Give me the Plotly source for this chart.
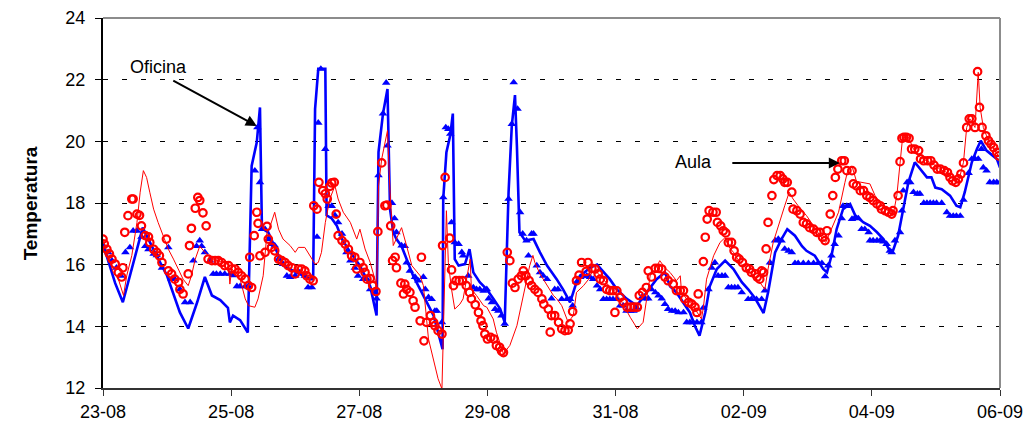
import pandas as pd
import plotly.graph_objects as go

START = pd.Timestamp("2008-08-23")

# (day offset from 23-08, temperature)
oficina_sim = [(0.00,16.67),(0.19,15.4),(0.31,14.78),(0.62,17.2),(0.81,16.4),(1.00,15.64),(1.20,14.45),(1.33,13.93),
 (1.47,14.78),(1.59,15.6),(1.70,15.0),(1.83,14.85),(1.95,14.6),(1.98,14.13),(2.03,14.35),(2.14,14.2),(2.26,13.8),
 (2.32,19.2),(2.40,19.97),(2.45,21.1),(2.48,17.26),(2.50,17.15),(2.58,17.05),(2.71,16.45),(2.81,15.97),(3.02,15.75),
 (3.23,15.53),(3.28,15.53),(3.31,21.05),(3.36,22.35),(3.47,22.35),(3.49,17.6),(3.57,17.5),(3.65,17.26),(3.73,16.83),
 (3.86,16.4),(4.01,15.97),(4.17,15.3),(4.27,14.35),(4.30,19.65),(4.37,20.9),(4.44,21.7),(4.48,17.8),(4.53,17.05),
 (4.58,16.83),(4.66,16.6),(4.74,16.18),(4.84,15.64),(4.95,15.2),(5.05,14.78),(5.16,14.35),(5.30,13.26),(5.31,18.13),
 (5.36,19.65),(5.42,20.2),(5.46,20.9),(5.49,16.18),(5.55,15.97),(5.65,16.02),(5.72,16.5),(5.78,15.75),(5.88,15.43),
 (5.99,15.2),(6.09,14.9),(6.20,14.56),(6.27,14.13),(6.33,18.35),(6.38,20.5),(6.43,21.5),(6.46,19.86),(6.50,17.05),
 (6.59,16.78),(6.72,16.83),(6.82,16.4),(6.93,15.97),(7.08,15.53),(7.18,15.2),(7.29,14.78),(7.37,15.3),(7.45,15.64),
 (7.60,15.9),(7.71,16.0),(7.81,15.75),(7.91,15.53),(8.02,15.2),(8.17,14.9),(8.33,14.67),(8.49,15.1),(8.64,15.53),
 (8.77,15.75),(8.85,15.3),(8.95,15.1),(9.06,14.78),(9.16,14.45),(9.24,14.0),(9.31,13.7),(9.40,14.45),(9.47,15.3),
 (9.58,15.86),(9.71,16.13),(9.84,15.86),(9.97,15.43),(10.07,15.2),(10.18,14.9),(10.31,14.43),(10.38,15.1),(10.49,16.4),
 (10.59,16.83),(10.68,17.15),(10.80,16.94),(10.91,16.6),(10.98,16.45),(11.11,16.29),(11.24,15.86),(11.30,15.75),
 (11.37,16.29),(11.45,17.15),(11.55,17.8),(11.66,17.97),(11.74,17.6),(11.87,17.37),(11.97,17.26),(12.08,17.05),
 (12.18,16.83),(12.28,16.45),(12.33,16.45),(12.41,16.94),(12.49,17.8),(12.57,18.67),(12.67,19.32),(12.75,19.1),
 (12.86,18.83),(12.93,18.83),(12.99,18.5),(13.09,18.45),(13.22,18.24),(13.32,17.91),(13.38,17.86),(13.45,18.35),
 (13.56,19.32),(13.64,19.75),(13.70,20.02),(13.79,19.7),(13.87,19.55),(13.95,19.43),(14.00,19.15)]

oficina_med = [(0.00,16.62),(0.08,16.4),(0.14,16.13),(0.21,15.9),(0.28,15.64),(0.35,16.4),(0.42,16.56),(0.47,17.1),
 (0.53,17.1),(0.60,16.9),(0.66,16.6),(0.71,16.5),(0.79,16.35),(0.84,16.3),(0.92,15.9),(1.02,16.56),(1.07,15.53),
 (1.12,15.53),(1.20,15.2),(1.28,14.78),(1.36,14.78),(1.41,16.13),(1.46,16.6),(1.51,16.78),(1.54,16.6),(1.59,16.4),
 (1.67,16.13),(1.72,15.7),(1.77,15.7),(1.83,15.7),(1.90,15.7),(1.98,15.7),(2.03,15.65),(2.09,15.3),(2.14,15.3),
 (2.22,15.3),(2.27,15.3),(2.37,19.05),(2.41,20.45),(2.45,18.67),(2.48,17.15),(2.53,17.15),(2.58,16.83),(2.63,16.67),
 (2.68,16.62),(2.74,16.18),(2.81,16.02),(2.87,15.64),(2.92,15.6),(3.00,15.64),(3.07,15.75),(3.15,15.64),(3.20,15.26),
 (3.26,15.26),(3.34,16.9),(3.36,20.6),(3.40,22.35),(3.47,19.75),(3.52,17.9),(3.57,17.9),(3.62,17.6),(3.67,17.37),
 (3.73,17.0),(3.80,16.4),(3.86,16.13),(3.93,15.9),(3.98,15.64),(4.06,15.53),(4.12,15.53),(4.17,15.2),(4.25,15.1),
 (4.27,14.9),(4.30,18.9),(4.37,20.9),(4.42,21.9),(4.44,19.86),(4.51,18.0),(4.55,17.5),(4.58,17.05),(4.66,16.62),
 (4.71,16.6),(4.74,16.07),(4.79,15.8),(4.87,15.6),(4.92,15.48),(5.00,15.6),(5.03,15.2),(5.08,14.94),(5.13,14.88),
 (5.18,14.5),(5.21,14.5),(5.29,14.13),(5.31,18.18),(5.35,20.45),(5.39,20.4),(5.42,20.24),(5.44,17.37),(5.49,16.72),
 (5.55,16.67),(5.60,16.4),(5.62,16.29),(5.70,15.64),(5.78,15.26),(5.83,15.2),(5.88,15.2),(5.94,15.15),(5.99,15.2),
 (6.02,14.9),(6.07,14.78),(6.12,14.56),(6.17,14.5),(6.22,14.35),(6.27,14.08),(6.33,18.13),(6.38,20.56),(6.41,21.91),
 (6.47,21.05),(6.51,17.7),(6.55,17.0),(6.61,16.78),(6.64,16.29),(6.69,17.0),(6.72,17.0),(6.77,15.97),(6.82,15.75),
 (6.87,15.64),(6.93,15.53),(7.00,14.9),(7.05,15.2),(7.10,15.2),(7.16,14.88),(7.24,14.88),(7.29,14.88),(7.33,14.67),
 (7.39,15.43),(7.45,15.6),(7.50,15.64),(7.55,15.64),(7.60,15.6),(7.65,15.53),(7.71,15.32),(7.76,15.2),(7.81,14.88),
 (7.86,14.88),(7.91,14.88),(7.96,14.88),(8.02,14.88),(8.07,14.67),(8.12,14.67),(8.17,14.5),(8.23,14.5),(8.28,14.5),
 (8.33,14.6),(8.41,14.94),(8.46,14.9),(8.51,14.9),(8.56,15.2),(8.62,15.1),(8.67,15.0),(8.72,14.9),(8.77,14.72),
 (8.82,14.56),(8.88,14.5),(8.93,14.5),(8.98,14.45),(9.06,14.45),(9.11,14.13),(9.16,14.13),(9.21,14.13),(9.27,14.13),
 (9.34,14.13),(9.37,14.6),(9.45,15.2),(9.50,15.9),(9.55,16.07),(9.60,15.64),(9.66,15.64),(9.71,15.64),(9.76,15.26),
 (9.81,15.26),(9.86,15.26),(9.91,15.26),(9.97,15.1),(10.07,14.88),(10.12,14.88),(10.20,14.88),(10.28,14.88),
 (10.33,15.16),(10.41,16.07),(10.49,16.78),(10.54,16.83),(10.59,16.78),(10.64,16.51),(10.70,16.45),(10.75,16.4),
 (10.80,16.05),(10.85,16.05),(10.93,16.05),(11.01,16.05),(11.09,16.05),(11.16,16.05),(11.22,16.05),(11.27,15.62),
 (11.32,15.97),(11.37,16.29),(11.42,16.67),(11.48,16.94),(11.53,17.5),(11.55,17.9),(11.61,17.9),(11.69,17.48),
 (11.74,17.53),(11.79,17.5),(11.84,17.15),(11.89,17.15),(11.95,17.05),(11.97,16.78),(12.02,16.78),(12.08,16.78),
 (12.13,16.78),(12.18,16.75),(12.23,16.67),(12.28,16.45),(12.31,16.4),(12.36,16.78),(12.44,17.05),(12.47,17.75),
 (12.49,18.4),(12.55,18.67),(12.60,18.67),(12.65,18.35),(12.71,18.3),(12.75,18.3),(12.81,18.0),(12.86,18.0),
 (12.91,18.0),(12.96,18.0),(13.01,18.0),(13.09,18.0),(13.17,17.7),(13.22,17.58),(13.27,17.58),(13.32,17.58),
 (13.38,17.58),(13.43,18.1),(13.51,18.97),(13.56,19.43),(13.61,19.43),(13.66,19.43),(13.71,19.75),(13.74,19.15),
 (13.79,19.05),(13.84,18.67),(13.90,18.67),(13.95,18.67),(14.00,18.67)]

aula_sim = [(0.00,16.83),(0.06,16.4),(0.16,15.75),(0.24,15.53),(0.32,15.0),(0.37,15.64),(0.45,16.3),(0.53,17.37),
 (0.58,18.35),(0.63,19.05),(0.68,18.83),(0.73,18.35),(0.79,17.8),(0.86,17.37),(0.94,16.94),(1.02,16.5),(1.10,16.18),
 (1.18,15.86),(1.25,15.53),(1.33,15.32),(1.38,15.64),(1.44,16.18),(1.51,16.6),(1.57,16.45),(1.64,16.3),(1.72,16.18),
 (1.80,16.13),(1.90,16.07),(1.96,15.97),(1.98,15.37),(2.01,15.86),(2.09,15.7),(2.14,15.53),(2.22,14.89),(2.27,14.67),
 (2.37,14.62),(2.42,14.89),(2.50,15.64),(2.56,17.05),(2.61,17.26),(2.68,17.7),(2.74,17.15),(2.81,16.83),(2.92,16.62),
 (3.00,16.4),(3.05,16.56),(3.15,16.56),(3.23,16.29),(3.31,16.02),(3.36,16.07),(3.41,16.4),(3.47,17.37),(3.54,18.13),
 (3.62,18.56),(3.67,18.13),(3.75,17.7),(3.86,17.37),(3.96,16.83),(4.01,17.15),(4.09,16.51),(4.17,16.07),(4.25,15.48),
 (4.27,15.2),(4.30,18.56),(4.35,19.43),(4.44,20.35),(4.48,18.35),(4.53,16.62),(4.58,16.83),(4.66,17.2),(4.74,16.6),
 (4.82,15.97),(4.95,15.64),(5.00,15.32),(5.08,13.59),(5.16,12.94),(5.23,12.3),(5.29,11.97),(5.30,12.94),(5.34,16.6),
 (5.36,17.75),(5.39,16.07),(5.44,15.2),(5.49,14.56),(5.57,14.72),(5.62,14.89),(5.68,15.53),(5.73,16.18),(5.75,15.2),
 (5.83,15.0),(5.94,14.67),(5.99,14.62),(6.09,14.24),(6.14,13.81),(6.25,13.11),(6.35,13.38),(6.46,14.02),(6.56,15.0),
 (6.66,15.97),(6.71,16.3),(6.74,16.07),(6.82,15.7),(6.93,15.32),(7.03,15.0),(7.08,14.9),(7.16,14.67),(7.26,14.13),
 (7.34,14.35),(7.39,15.1),(7.50,15.32),(7.58,15.53),(7.63,15.75),(7.71,15.75),(7.81,15.53),(7.94,15.2),(8.07,14.89),
 (8.23,14.29),(8.34,13.92),(8.43,14.13),(8.49,14.89),(8.54,15.64),(8.62,15.86),(8.69,16.13),(8.77,15.9),(8.85,15.75),
 (8.95,15.48),(9.01,15.64),(9.03,15.1),(9.11,14.89),(9.19,14.72),(9.27,14.45),(9.34,14.24),(9.37,14.6),(9.42,15.53),
 (9.53,16.29),(9.63,16.72),(9.71,16.88),(9.76,16.6),(9.84,16.4),(9.94,16.07),(10.05,15.86),(10.15,15.64),(10.25,15.43),
 (10.33,15.2),(10.38,15.86),(10.46,16.72),(10.57,17.48),(10.64,17.91),(10.71,18.35),(10.77,18.13),(10.85,17.91),
 (10.98,17.59),(11.09,17.26),(11.19,16.94),(11.28,16.72),(11.37,17.15),(11.48,17.7),(11.58,18.67),(11.63,19.1),
 (11.69,19.2),(11.76,18.7),(11.97,18.62),(12.05,18.24),(12.13,18.0),(12.23,17.8),(12.33,17.59),(12.39,18.24),
 (12.44,19.43),(12.48,20.13),(12.57,20.13),(12.65,19.75),(12.75,19.48),(12.86,19.37),(12.96,19.26),(13.06,19.1),
 (13.17,18.99),(13.27,18.78),(13.35,18.67),(13.43,19.32),(13.48,20.45),(13.53,20.73),(13.61,20.45),(13.66,22.24),
 (13.69,21.1),(13.74,20.45),(13.79,20.18),(13.87,19.86),(13.95,19.59),(14.00,19.45)]

aula_med = [(0.00,16.83),(0.02,16.67),(0.06,16.5),(0.10,16.35),(0.14,16.18),(0.19,16.02),(0.24,15.75),(0.29,15.6),
 (0.31,15.9),(0.34,17.05),(0.39,17.59),(0.45,18.13),(0.47,18.13),(0.53,17.64),(0.57,17.6),(0.60,17.26),(0.66,16.94),
 (0.71,16.9),(0.73,16.72),(0.79,16.5),(0.84,16.4),(0.88,16.29),(0.92,16.07),(0.99,16.83),(1.02,15.8),(1.07,15.7),
 (1.12,15.53),(1.18,15.43),(1.20,15.2),(1.25,15.05),(1.33,15.7),(1.35,16.62),(1.38,17.18),(1.44,17.83),(1.48,18.18),
 (1.51,18.08),(1.56,17.68),(1.61,17.26),(1.64,16.18),(1.70,16.13),(1.75,16.13),(1.80,16.13),(1.85,16.07),(1.90,15.97),
 (1.96,15.97),(2.01,15.86),(2.06,15.86),(2.11,15.75),(2.16,15.64),(2.22,15.53),(2.27,15.32),(2.29,16.24),(2.32,15.26),
 (2.36,16.94),(2.40,17.7),(2.42,17.34),(2.45,16.29),(2.53,16.4),(2.56,17.24),(2.58,16.83),(2.63,16.56),(2.68,16.45),
 (2.74,16.18),(2.79,16.13),(2.84,16.07),(2.89,15.97),(2.95,15.9),(3.00,15.7),(3.05,15.86),(3.10,15.86),(3.15,15.8),
 (3.18,15.64),(3.23,15.53),(3.28,15.48),(3.29,17.91),(3.34,17.8),(3.37,18.67),(3.43,18.4),(3.47,18.3),(3.50,18.13),
 (3.54,18.54),(3.57,18.65),(3.61,18.67),(3.64,17.64),(3.67,16.94),(3.73,16.78),(3.78,16.67),(3.83,16.5),(3.88,16.29),
 (3.93,16.24),(3.96,15.86),(4.01,16.07),(4.06,15.9),(4.09,15.75),(4.12,15.53),(4.17,15.55),(4.21,15.32),(4.26,15.13),
 (4.29,17.07),(4.35,19.3),(4.40,17.91),(4.43,17.93),(4.49,17.26),(4.52,16.13),(4.56,16.24),(4.58,15.9),(4.65,15.4),
 (4.69,15.05),(4.71,15.37),(4.74,15.2),(4.79,15.1),(4.84,14.83),(4.87,14.62),(4.95,14.18),(4.97,16.24),(5.01,13.53),
 (5.05,14.13),(5.11,14.35),(5.16,14.13),(5.18,14.02),(5.23,13.86),(5.29,13.75),(5.30,16.62),(5.34,18.83),(5.41,16.86),
 (5.44,15.83),(5.47,15.32),(5.51,15.48),(5.56,15.48),(5.61,15.48),(5.67,15.32),(5.72,15.1),(5.75,14.89),(5.81,14.7),
 (5.86,14.45),(5.90,14.18),(5.93,14.02),(5.96,13.75),(6.00,13.59),(6.05,13.64),(6.10,13.59),(6.14,13.38),(6.19,13.32),
 (6.22,13.2),(6.25,13.15),(6.31,16.4),(6.35,16.13),(6.39,15.4),(6.43,15.26),(6.48,15.53),(6.53,15.64),(6.56,15.8),
 (6.60,15.64),(6.65,15.48),(6.69,15.32),(6.74,15.2),(6.79,15.1),(6.85,14.89),(6.88,14.72),(6.95,14.56),(6.98,13.81),
 (7.00,14.35),(7.05,14.35),(7.11,14.13),(7.16,13.92),(7.21,13.86),(7.26,13.88),(7.29,14.08),(7.33,14.48),(7.39,15.48),
 (7.43,15.66),(7.47,16.07),(7.54,15.78),(7.57,16.07),(7.63,15.88),(7.68,15.86),(7.73,15.7),(7.76,15.53),(7.81,15.48),
 (7.86,15.2),(7.91,15.16),(7.96,15.16),(7.99,14.45),(8.02,15.15),(8.07,14.94),(8.12,14.78),(8.18,14.62),(8.24,14.62),
 (8.29,14.62),(8.34,14.62),(8.37,15.0),(8.42,15.1),(8.48,15.26),(8.51,15.8),(8.56,15.6),(8.62,15.88),(8.67,15.88),
 (8.72,15.86),(8.77,15.6),(8.82,15.48),(8.90,15.37),(8.95,15.16),(9.01,15.16),(9.06,15.16),(9.08,14.89),(9.14,14.78),
 (9.19,14.72),(9.24,14.62),(9.27,14.45),(9.29,15.05),(9.37,16.1),(9.40,16.89),(9.43,17.48),(9.46,17.75),(9.52,17.7),
 (9.57,17.7),(9.59,17.37),(9.64,17.26),(9.68,17.1),(9.72,17.03),(9.76,16.72),(9.81,16.72),(9.85,16.45),(9.89,16.24),
 (9.93,16.18),(9.98,16.07),(10.04,15.9),(10.09,15.86),(10.12,15.75),(10.18,15.7),(10.21,15.6),(10.25,15.53),
 (10.28,15.8),(10.31,15.75),(10.35,16.51),(10.38,17.37),(10.44,18.24),(10.47,18.76),(10.52,18.89),(10.57,18.89),
 (10.61,18.78),(10.64,18.67),(10.68,18.67),(10.75,18.35),(10.77,17.8),(10.83,17.75),(10.88,17.64),(10.93,17.37),
 (10.98,17.32),(11.03,17.2),(11.09,17.15),(11.14,17.05),(11.19,17.05),(11.23,16.89),(11.27,16.78),(11.30,17.1),
 (11.35,17.64),(11.39,18.24),(11.43,18.83),(11.47,19.1),(11.53,19.37),(11.57,19.37),(11.61,19.05),(11.69,19.05),
 (11.71,18.62),(11.76,18.56),(11.82,18.4),(11.87,18.4),(11.92,18.24),(11.97,18.18),(12.02,18.08),(12.08,17.97),
 (12.13,17.91),(12.15,17.8),(12.21,17.75),(12.26,17.7),(12.31,17.64),(12.33,17.75),(12.41,18.24),(12.44,19.34),
 (12.47,20.1),(12.50,20.13),(12.54,20.13),(12.58,20.1),(12.62,19.75),(12.67,19.75),(12.73,19.7),(12.76,19.43),
 (12.81,19.37),(12.87,19.37),(12.92,19.37),(12.97,19.23),(13.02,19.1),(13.07,19.1),(13.13,19.05),(13.18,18.99),
 (13.22,18.83),(13.26,18.72),(13.31,18.67),(13.35,18.78),(13.39,18.94),(13.43,19.3),(13.48,20.45),(13.52,20.73),
 (13.56,20.73),(13.61,20.45),(13.65,22.26),(13.68,21.1),(13.72,20.45),(13.78,20.18),(13.82,20.02),(13.86,19.91),
 (13.90,19.8),(13.95,19.64),(13.98,19.53)]

x_ticks_days = [0, 2, 4, 6, 8, 10, 12, 14]
y_ticks = [12, 14, 16, 18, 20, 22, 24]


def split(series):
    d = [p[0] for p in series]
    v = [p[1] for p in series]
    return START + pd.to_timedelta(d, unit="D"), v


fig = go.Figure()

x, y = split(oficina_sim)
fig.add_trace(go.Scatter(x=x, y=y, mode="lines", line=dict(color="#0000FF", width=2.6)))
x, y = split(oficina_med)
fig.add_trace(go.Scatter(x=x, y=y, mode="markers",
                         marker=dict(symbol="triangle-up", size=7.5, color="#0000FF")))
x, y = split(aula_sim)
fig.add_trace(go.Scatter(x=x, y=y, mode="lines", line=dict(color="#FF0000", width=1)))
x, y = split(aula_med)
fig.add_trace(go.Scatter(x=x, y=y, mode="markers",
                         marker=dict(symbol="circle-open", size=7.5, color="#FF0000",
                                     line=dict(width=2.2, color="#FF0000"))))

tick_font = dict(family="Liberation Sans, Arial", size=18, color="#000000")
tickvals = [START + pd.Timedelta(days=d) for d in x_ticks_days]
fig.update_xaxes(range=[tickvals[0], tickvals[-1]], tickvals=tickvals,
                 ticktext=[t.strftime("%d-%m") for t in tickvals],
                 showgrid=False, showline=True, linecolor="#333333", linewidth=2,
                 ticks="outside", ticklen=6, tickcolor="#333333", automargin=False,
                 tickfont=tick_font, zeroline=False)
fig.update_yaxes(range=[12, 24], tickvals=y_ticks, showgrid=True,
                 gridcolor="#000000", gridwidth=1, griddash="5px,14px",
                 showline=True, linecolor="#000000", linewidth=2, automargin=False,
                 ticks="outside", ticklen=6, tickcolor="#000000", ticklabelstandoff=6,
                 tickfont=tick_font, zeroline=False)

# grey frame on top and right
fig.add_shape(type="line", xref="paper", yref="paper", x0=0, x1=1, y0=1, y1=1,
              line=dict(color="#8c8c8c", width=2))
fig.add_shape(type="line", xref="paper", yref="paper", x0=1, x1=1, y0=0, y1=1,
              line=dict(color="#8c8c8c", width=2))

def day(d):
    return START + pd.Timedelta(days=d)

annot_font = dict(family="Liberation Sans, Arial", size=18, color="#000000")
fig.add_annotation(x=day(0.86), y=22.42, text="Oficina", showarrow=False, font=annot_font)
fig.add_annotation(x=day(2.40), y=20.5, text="", showarrow=True, ax=-85, ay=-46,
                   arrowhead=2, arrowsize=1.1, arrowwidth=2, arrowcolor="#000000")
fig.add_annotation(x=day(9.22), y=19.33, text="Aula", showarrow=False, font=annot_font)
fig.add_annotation(x=day(11.50), y=19.3, text="", showarrow=True, ax=-109, ay=0,
                   arrowhead=2, arrowsize=1.1, arrowwidth=2, arrowcolor="#000000")

fig.add_annotation(xref="paper", yref="paper", x=-0.081, y=0.5, xanchor="center", yanchor="middle",
                   text="<b>Temperatura</b>", textangle=-90, showarrow=False,
                   font=dict(family="Liberation Sans, Arial", size=19, color="#000000"))

fig.update_layout(width=1032, height=427, margin=dict(l=103, r=32, t=18, b=39, autoexpand=False),
                  plot_bgcolor="white", paper_bgcolor="white", showlegend=False)

fig.write_html("out.html", config={"displayModeBar": False},
               post_script="document.body.style.margin='0px';")
